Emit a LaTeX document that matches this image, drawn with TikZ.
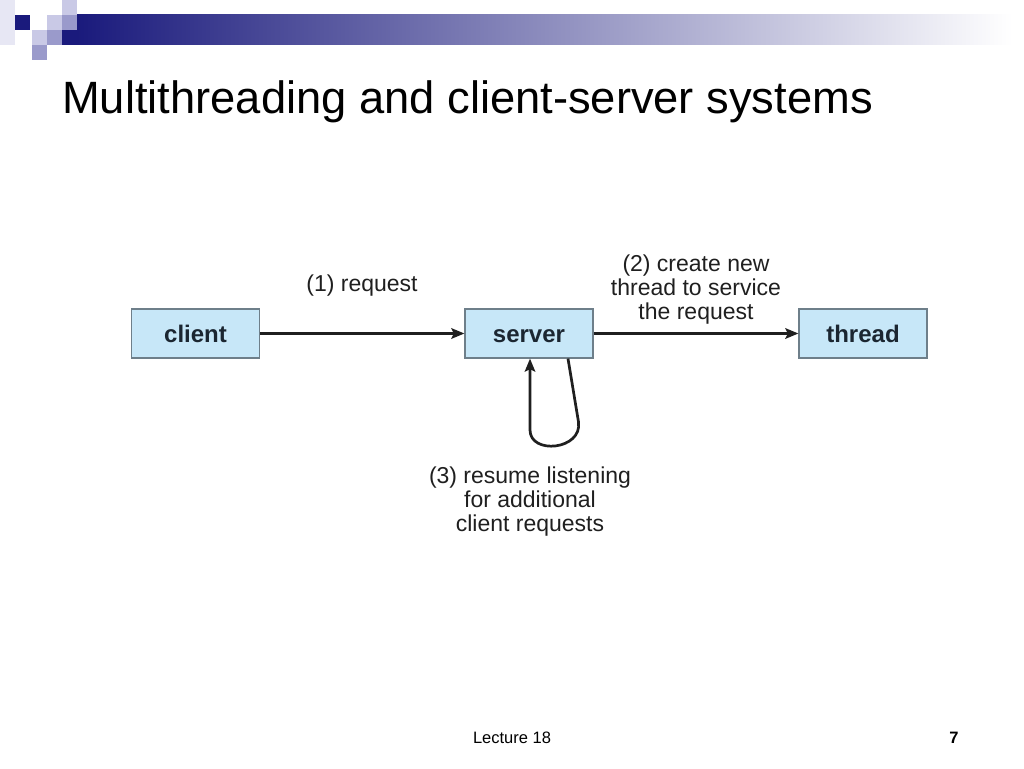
\documentclass[tikz,border=0pt]{standalone}
\usepackage{fontspec}
\setmainfont{Liberation Sans}
\usetikzlibrary{arrows.meta}
\definecolor{navy}{HTML}{1A1A7C}
\definecolor{lavlight}{HTML}{C9C9E6}
\definecolor{lavmid}{HTML}{9A9ACB}
\definecolor{boxfill}{HTML}{C7E7F8}
\definecolor{boxline}{HTML}{6E7F8A}
\definecolor{boxtext}{HTML}{1B2631}

\begin{document}
\begin{tikzpicture}[x=1pt, y=-1pt,
		block/.style={draw=boxline, line width=1.2pt, fill=boxfill, minimum width=128pt, minimum height=49pt, inner sep=0pt, text height=17.5pt, text depth=0pt, font=\fontsize{24}{24}\selectfont\bfseries, text=boxtext},
		flow/.style={line width=2.7pt, draw=black!88, -{Stealth[length=13pt, width=10.5pt, inset=2.5pt]}},
		note/.style={align=center, inner sep=0pt, font=\fontsize{23}{24}\selectfont, text=black!88}]
		\useasboundingbox (0,0) rectangle (1024,768);
		
		% corner squares and title bar
		\fill[lavlight!45] (0,0) rectangle (15,45);
		\shade[left color=navy, right color=white] (77,15) rectangle (1012,45);
		\fill[navy] (15,15) rectangle (30,30);
		\fill[lavlight] (47,15) rectangle (62,30);
		\fill[lavlight] (62,0) rectangle (77,15);
		\fill[lavmid] (62,15) rectangle (77,30);
		\fill[lavlight] (32,30) rectangle (47,45);
		\fill[lavmid] (47,30) rectangle (62,45);
		\fill[navy] (62,30) rectangle (77,45);
		\fill[lavmid] (32,45) rectangle (47,60);
		
		\node[anchor=base west, inner sep=0pt, font=\fontsize{45.3}{50}\selectfont] (title) at (62,113) {Multithreading and client-server systems};
		
		\node[block] (client) at (195.5,333.5) {client};
		\node[block] (server) at (529,333.5) {server};
		\node[block] (thread) at (863,333.5) {thread};
		\draw[flow] (client) -- (server);
		\draw[flow] (server) -- (thread);
		
		\node[note, anchor=base] (request) at (362,291) {(1) request};
		\node[note] (create) at (696,289.6) {(2) create new\\thread to service\\the request};
		\node[note] (resume) at (530,501.5) {(3) resume listening\\for additional\\client requests};
		
		% loop back into the server
		\coordinate (loopturn) at (578.5,422);
		\coordinate (loopup) at (530,430);
		\draw[flow] ([xshift=39pt]server.south) -- (loopturn) .. controls (582.5,450) and (530,455) .. (loopup) -- ([xshift=1pt]server.south);
		
		\node[anchor=base, font=\fontsize{16.5}{18}\selectfont] (lecture) at (512,743) {Lecture 18};
		\node[anchor=base east, font=\fontsize{16.5}{18}\selectfont\bfseries] (page) at (962,743) {7};
		
	\end{tikzpicture}
\end{document}
